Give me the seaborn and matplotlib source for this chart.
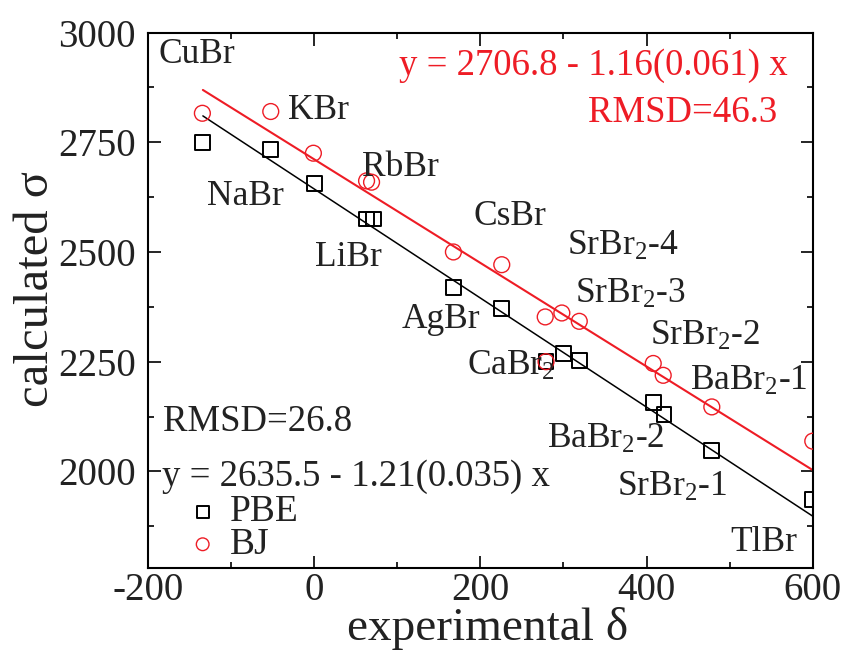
import numpy as np
import pandas as pd
import matplotlib
matplotlib.use("Agg")
import matplotlib.pyplot as plt
from matplotlib.ticker import MultipleLocator
import seaborn as sns

# ---- data ----
x_pbe = [-134.6, -52.3, 0, 63, 71, 167.5, 225.7, 279, 300, 319, 408, 421, 478.5, 600]
y_pbe = [2750, 2733, 2657, 2575, 2575, 2420, 2372, 2251, 2268, 2253, 2158, 2130, 2048, 1936]
x_bj = [-134.6, -52.3, -1, 63, 69, 167.5, 225.7, 278, 298, 319, 279, 408, 420, 478.5, 600]
y_bj = [2816, 2820, 2725, 2662, 2659, 2500, 2471, 2352, 2361, 2342, 2250, 2246, 2219, 2147, 2069]

fit_x = [-134.0, 600.0]
pbe_fit = (2643.5, -1.2425)   # intercept, slope as drawn
bj_fit = (2711.0, -1.18)

compound_labels = ['CuBr', 'KBr', 'NaBr', 'RbBr', 'LiBr', 'AgBr', 'CsBr', 'CaBr$_2$',
                   'SrBr$_2$-4', 'SrBr$_2$-3', 'SrBr$_2$-2', 'BaBr$_2$-1', 'BaBr$_2$-2',
                   'SrBr$_2$-1', 'TlBr']
label_pos = [(-188, 2930, 'left'), (-31, 2802, 'left'), (-129, 2607, 'left'),
             (57, 2674, 'left'), (1, 2467, 'left'), (199.6, 2327, 'right'),
             (191.5, 2562, 'left'), (183.6, 2220, 'left'), (304, 2494, 'left'),
             (314, 2384, 'left'), (404, 2289, 'left'), (594, 2186, 'right'),
             (280, 2054, 'left'), (364, 1944, 'left'), (581, 1818, 'right')]

x_ticks = [-200, 0, 200, 400, 600]
y_ticks = [2000, 2250, 2500, 2750, 3000]

RED = '#ee1c25'
INK = '#222222'

sns.set_theme(style='ticks')
plt.rcParams['font.family'] = ['Liberation Serif', 'DejaVu Serif']
plt.rcParams['mathtext.fontset'] = 'custom'
plt.rcParams['mathtext.rm'] = 'Liberation Serif'
plt.rcParams['mathtext.it'] = 'Liberation Serif:italic'
plt.rcParams['axes.unicode_minus'] = False

fig = plt.figure(figsize=(8.44, 6.54), dpi=100)
ax = fig.add_axes([0.1754, 0.1315, 0.7876, 0.8188])

# fit lines
fx = np.array(fit_x)
sns.lineplot(x=fx, y=pbe_fit[0] + pbe_fit[1] * fx, color='black', linewidth=1.1, ax=ax)
sns.lineplot(x=fx, y=bj_fit[0] + bj_fit[1] * fx, color=RED, linewidth=1.5, ax=ax)

df_pbe = pd.DataFrame({'x': x_pbe, 'y': y_pbe})
df_bj = pd.DataFrame({'x': x_bj, 'y': y_bj})
sns.scatterplot(data=df_pbe, x='x', y='y', marker='s', s=115, facecolors='none',
                edgecolor='black', linewidth=1.4, ax=ax, label='PBE', zorder=3)
sns.scatterplot(data=df_bj, x='x', y='y', marker='o', s=130, facecolors='none',
                edgecolor=RED, linewidth=1.0, ax=ax, label='BJ', zorder=3)

for lab, (lx, ly, ha) in zip(compound_labels, label_pos):
    ax.text(lx, ly, lab, ha=ha, va='baseline', fontsize=25.5, color=INK)

ax.text(570.3, 2903, 'y = 2706.8 - 1.16(0.061) x', ha='right', va='baseline',
        fontsize=26.5, color=RED)
ax.text(556.8, 2797, 'RMSD=46.3', ha='right', va='baseline', fontsize=26.5, color=RED)
ax.text(-181.6, 2091.5, 'RMSD=26.8', ha='left', va='baseline', fontsize=26.5, color=INK)
ax.text(-183.5, 1966.4, 'y = 2635.5 - 1.21(0.035) x', ha='left', va='baseline',
        fontsize=26.5, color=INK)

ax.set_xlim(-200, 600)
ax.set_ylim(1780, 3000)
ax.set_xticks(x_ticks)
ax.set_yticks(y_ticks)
ax.xaxis.set_minor_locator(MultipleLocator(100))
ax.yaxis.set_minor_locator(MultipleLocator(125))
ax.tick_params(which='both', direction='in', top=True, right=True, width=1.2,
               colors='black', labelsize=28, labelcolor=INK)
ax.tick_params(axis='y', pad=9)
ax.tick_params(axis='x', pad=3)
ax.tick_params(which='major', length=9)
ax.tick_params(which='minor', length=4.5)
for sp in ax.spines.values():
    sp.set_linewidth(1.5)
    sp.set_color('black')

ax.set_xlabel('experimental δ', fontsize=34, color=INK)
ax.set_ylabel('calculated σ', fontsize=35, color=INK)
ax.xaxis.set_label_coords(0.511, -0.073)
ax.yaxis.set_label_coords(-0.135, 0.52)

leg = ax.legend(loc='lower left', bbox_to_anchor=(0.054, 0.011), frameon=False,
                fontsize=27, handlelength=1.0, handletextpad=0.22,
                labelspacing=-0.05, borderpad=0, borderaxespad=0, markerscale=0.8)
for t in leg.get_texts():
    t.set_color(INK)

fig.savefig('out.png', dpi=100)
